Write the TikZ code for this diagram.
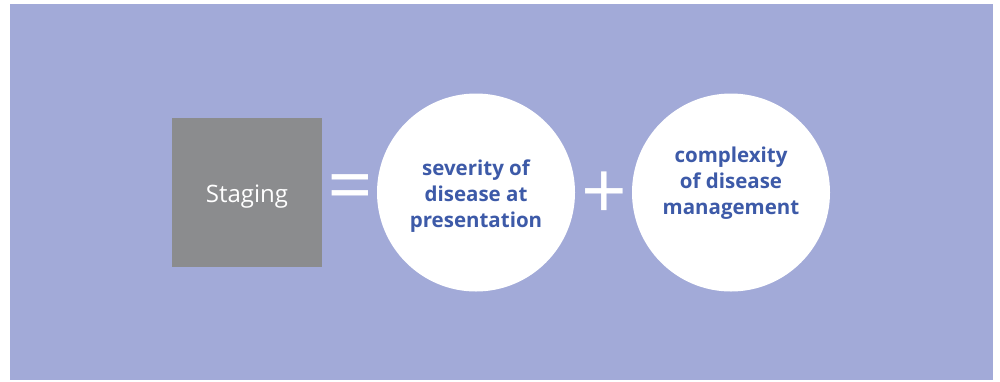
\documentclass[tikz,border=0pt]{standalone}
\usepackage{fontspec}
\setmainfont{Open Sans}
\definecolor{bgpurple}{HTML}{A2AAD8}
\definecolor{boxgray}{HTML}{8B8C8E}
\definecolor{txtblue}{HTML}{3D5AA8}
\begin{document}
\begin{tikzpicture}[x=1pt,y=-1pt,
  circ/.style={circle,fill=white,minimum size=198pt,inner sep=0pt},
  ctext/.style={text=txtblue,font=\fontsize{20.5}{26}\selectfont\bfseries,align=center,inner sep=0pt},
  sym/.style={text=white,inner sep=0pt,font=\fontsize{80}{80}\selectfont}]
\useasboundingbox (0,0) rectangle (1000,381);
\fill[bgpurple] (10,4) rectangle (993,380);
\node[fill=boxgray,minimum width=150pt,minimum height=149pt,inner sep=0pt] (stag) at (247,192.5) {};
\node[text=white,font=\fontsize{24}{28}\selectfont,inner sep=0pt] (stagt) at (247,196.5) {Staging};
\node[circ] (sev) at (476,192.5) {};
\node[ctext] (sevt) at (476,196.5) {severity of\\disease at\\presentation};
\node[circ] (cplx) at (731,192.5) {};
\node[ctext] (cplxt) at (731,183) {complexity\\of disease\\management};
\node[sym] (eq) at (350,194) {=};
\node[sym] (plus) at (604.5,195.5) {+};
\end{tikzpicture}
\end{document}
